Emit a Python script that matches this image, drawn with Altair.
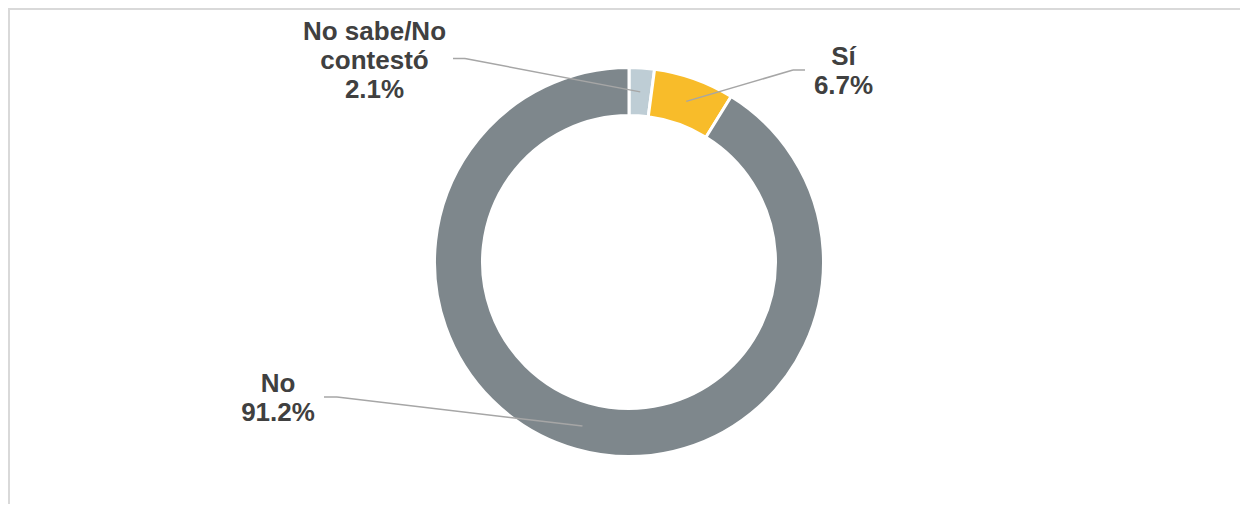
import altair as alt
import pandas as pd

# ---- data ----
CATEGORIES = ["No sabe/No contestó", "Sí", "No"]
VALUES = [2.1, 6.7, 91.2]
LABELS = ["No sabe/No\ncontestó\n2.1%", "Sí\n6.7%", "No\n91.2%"]
COLORS = ["#BECDD5", "#F8BC2A", "#7E878C"]

# ---- layout (annotation placement, chart pixel coordinates) ----
W, H = 1232, 496
CX, CY = 621, 254
R_OUT, R_IN = 194.5, 146.5
R_MID = 170.5
LABEL_X = [366.5, 835.5, 270]
LABEL_Y = [31.5, 57, 384]
LEAD_X0 = [445, 797, 316]
LEAD_X1 = [457, 785, 329]
LEAD_Y = [50.5, 62, 389]

df = pd.DataFrame({
    "cat": CATEGORIES,
    "value": VALUES,
    "order": list(range(len(CATEGORIES))),
    "label": LABELS,
    "lx": LABEL_X,
    "ly": LABEL_Y,
    "ex0": LEAD_X0,
    "ex1": LEAD_X1,
    "ey": LEAD_Y,
})

base = alt.Chart(df)

color = alt.Color("cat:N", scale=alt.Scale(domain=CATEGORIES, range=COLORS), legend=None)

arcs = base.mark_arc(radius=R_OUT, radius2=R_IN, stroke="white", strokeWidth=3).encode(
    theta=alt.Theta("value:Q", stack=True),
    order=alt.Order("order:Q"),
    color=color,
    x=alt.value(CX),
    y=alt.value(CY),
)

geo = base.transform_joinaggregate(
    total="sum(value)"
).transform_window(
    cum="sum(value)", sort=[alt.SortField("order")], frame=[None, 0]
).transform_calculate(
    mid="(datum.cum - datum.value/2) / datum.total * 2 * PI",
).transform_calculate(
    px=f"{CX} + {R_MID} * sin(datum.mid)",
    py=f"{CY} - {R_MID} * cos(datum.mid)",
)

lead_diag = geo.mark_rule(color="#A6A6A6", strokeWidth=1.5).encode(
    x=alt.X("ex1:Q", scale=None),
    y=alt.Y("ey:Q", scale=None),
    x2="px:Q",
    y2="py:Q",
)

lead_h = base.mark_rule(color="#A6A6A6", strokeWidth=1.5).encode(
    x=alt.X("ex0:Q", scale=None),
    x2="ex1:Q",
    y=alt.Y("ey:Q", scale=None),
)

labels = base.mark_text(
    font="Liberation Sans", fontWeight="bold", fontSize=26, color="#404040",
    align="center", baseline="alphabetic", lineBreak="\n", lineHeight=29,
).encode(
    x=alt.X("lx:Q", scale=None),
    y=alt.Y("ly:Q", scale=None),
    text="label:N",
)

border_top = alt.Chart(pd.DataFrame({"a": [0]})).mark_rule(color="#D9D9D9", strokeWidth=2).encode(
    x=alt.value(0), x2=alt.value(W), y=alt.value(1)
)
border_left = alt.Chart(pd.DataFrame({"a": [0]})).mark_rule(color="#D9D9D9", strokeWidth=2).encode(
    x=alt.value(1), y=alt.value(0), y2=alt.value(H)
)

chart = alt.layer(border_top, border_left, arcs, lead_diag, lead_h, labels).properties(
    width=W, height=H, padding=0,
    autosize=alt.AutoSizeParams(type="none"),
).configure_view(stroke=None).configure(background="white")

chart.save("out.html", embed_options={"renderer": "svg", "actions": False})
